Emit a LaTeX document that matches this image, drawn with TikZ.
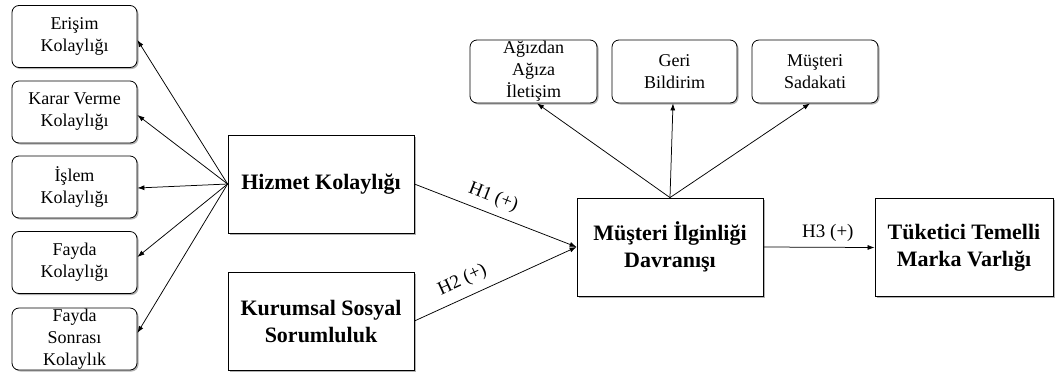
\documentclass[tikz,border=0pt]{standalone}
\usepackage{fontspec}
\setmainfont{Liberation Serif}
\usetikzlibrary{arrows.meta,shadows}
\begin{document}
\begin{tikzpicture}[x=1pt,y=-1pt,
  shad/.style={drop shadow={shadow xshift=1.5pt,shadow yshift=-1.5pt,opacity=0.3,fill=black}},
  smallbox/.style={draw,fill=white,rounded corners=7pt,line width=0.8pt,minimum width=125pt,minimum height=62pt,inner sep=0pt,align=center,font=\fontsize{18}{22}\selectfont,shad},
  bigbox/.style={draw,fill=white,line width=0.8pt,minimum width=186pt,minimum height=98pt,inner sep=0pt,align=center,font=\bfseries\fontsize{22}{27}\selectfont,shad},
  arr/.style={line width=0.75pt,-{Latex[length=7pt,width=5pt]}},
  lab/.style={font=\fontsize{19}{22}\selectfont,inner sep=2pt}]
\useasboundingbox (0,0) rectangle (1057,373);
% left boxes
\node[smallbox] (e1) at (74.5,36.5) {Erişim\\Kolaylığı};
\node[smallbox] (e2) at (74.5,112) {Karar Verme\\Kolaylığı};
\node[smallbox] (e3) at (74.5,187) {İşlem\\Kolaylığı};
\node[smallbox] (e4) at (74.5,262.5) {Fayda\\Kolaylığı};
\node[smallbox] (e5) at (74.5,339) {Fayda\\Sonrası\\Kolaylık};
% main boxes
\node[bigbox] (hk) at (321,184) {Hizmet Kolaylığı};
\node[bigbox] (kss) at (321,321) {Kurumsal Sosyal\\Sorumluluk};
\node[bigbox] (mid) at (670,247) {Müşteri İlginliği\\Davranışı};
\node[bigbox,minimum width=178pt] (tt) at (964,247.5) {Tüketici Temelli\\Marka Varlığı};
% top boxes
\node[smallbox,minimum width=127pt,minimum height=63pt] (t1) at (533.5,71.5) {Ağızdan\\Ağıza\\İletişim};
\node[smallbox,minimum height=63pt] (t2) at (674.5,71.5) {Geri\\Bildirim};
\node[smallbox,minimum width=126pt,minimum height=63pt] (t3) at (815,71.5) {Müşteri\\Sadakati};
% arrows to indicators
\draw[arr] (hk.west) -- ([yshift=-3.5pt]e1.east);
\draw[arr] (hk.west) -- ([yshift=-3pt]e2.east);
\draw[arr] (hk.west) -- ([yshift=-1pt]e3.east);
\draw[arr] (hk.west) -- ([yshift=5.5pt]e4.east);
\draw[arr] (hk.west) -- ([yshift=6pt]e5.east);
\draw[arr] (mid.north) -- ([xshift=3.5pt]t1.south);
\draw[arr] (mid.north) -- ([xshift=-1.5pt]t2.south);
\draw[arr] (mid.north) -- ([xshift=-5pt]t3.south);
% hypotheses
\draw[arr] (hk.east) -- node[lab,pos=0.45,above=5pt,sloped] {H1 (+)} (mid.west);
\draw[arr] (kss.east) -- node[lab,pos=0.34,above=6pt,sloped] {H2 (+)} (mid.west);
\draw[arr] (mid.east) -- node[lab,pos=0.58,above=3pt] {H3 (+)} (tt.west);
\end{tikzpicture}
\end{document}
